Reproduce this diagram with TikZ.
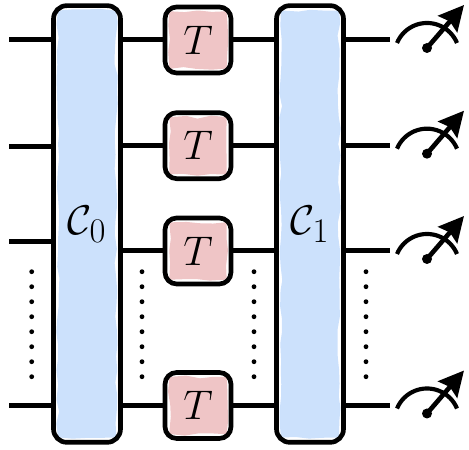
\documentclass[tikz,border=0pt]{standalone}
\usetikzlibrary{arrows.meta,decorations.pathmorphing}
\definecolor{blockblue}{HTML}{CCE1FC}
\definecolor{gatered}{HTML}{EFC5C6}
\tikzset{
  wire/.style={draw=black, line width=3pt},
  qblock/.style={draw=black, line width=2.8pt, rounded corners=8pt, outer sep=0pt,
    minimum width=40.2pt, minimum height=262pt},
  tgate/.style={draw=black, line width=2.8pt, rounded corners=7pt, outer sep=0pt,
    minimum width=39.6pt, minimum height=39.6pt},
  roughfill/.style={decorate, line width=1.6pt, line join=round, outer sep=0pt,
    decoration={random steps, segment length=8pt, amplitude=1pt}},
  gapdot/.style={fill=black, circle, inner sep=0pt, minimum size=2.9pt},
}
\begin{document}
\begin{tikzpicture}[x=0.6pt, y=0.6pt]
    \useasboundingbox (0,0) rectangle (469,450);
    % Draw rough colour fills
    \node[roughfill, fill=blockblue, draw=blockblue, minimum width=33.4pt, minimum height=254.6pt] at (87,226) {};
    \node[roughfill, fill=blockblue, draw=blockblue, minimum width=33.4pt, minimum height=254.6pt] at (310,226) {};
    \foreach \y in {410,304.3,199,44.5} {
        \node[roughfill, fill=gatered, draw=gatered, minimum width=32.8pt, minimum height=32.8pt] at (198,\y) {};
    }
    % Draw big blocks
    \node[qblock] (c0) at (87,226) {\Huge $\mathcal{C}_0$};
    \node[qblock] (c1) at (310,226) {\Huge $\mathcal{C}_1$};
    % Draw T gates
    \node[tgate] (t0) at (198,410) {\Huge $T$};
    \node[tgate] (t1) at (198,304.3) {\Huge $T$};
    \node[tgate] (t2) at (198,199) {\Huge $T$};
    \node[tgate] (t3) at (198,44.5) {\Huge $T$};
    % Draw wires
    \foreach \i/\yin in {0/410,1/303.5,2/208.3,3/44.3} {
        \coordinate (in\i) at (9,\yin);
        \draw[wire] (in\i) -- (in\i -| c0.west);
        \draw[wire] (t\i.west -| c0.east) -- (t\i.west);
        \draw[wire] (t\i.east) -- (t\i.east -| c1.west);
        \coordinate (out\i) at (390,0 |- t\i.east);
        \draw[wire] (t\i.east -| c1.east) -- (out\i);
        % Draw meter
        \coordinate (dial\i) at ([yshift=-4.8pt]out\i);
        \coordinate (pin\i) at ([xshift=22.2pt]dial\i);
        \fill (pin\i) circle (3pt);
        \draw[wire, line width=2.5pt] ([shift={(-18pt,3pt)}]pin\i) arc[start angle=157.4, end angle=22.6, radius=19.5pt];
        \draw[wire, line width=2.8pt, -{Stealth[length=15pt, width=15pt, inset=2pt]}] (pin\i) -- ([shift={(22.2pt,25.8pt)}]pin\i);
    }
    % Draw gap dots
    \foreach \x in {31.7,142,254,366} {
        \foreach \y in {73.3,88.3,...,179} {
            \node[gapdot] at (\x,\y) {};
        }
    }
\end{tikzpicture}
\end{document}
